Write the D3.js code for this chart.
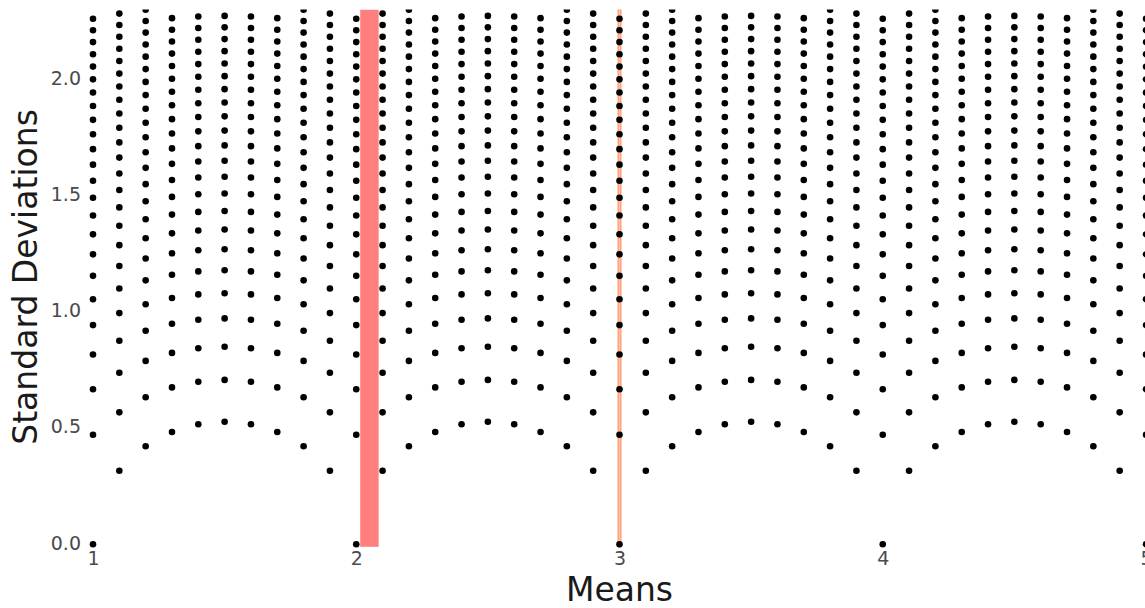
<!DOCTYPE html>
<html>
<head>
<meta charset="utf-8">
<script src="https://cdn.jsdelivr.net/npm/d3@7"></script>
<style>
  html, body { margin: 0; padding: 0; background: #fff; overflow: hidden; }
  text { font-family: "DejaVu Sans", sans-serif; }
</style>
</head>
<body>
<svg id="chart" width="1145" height="608"></svg>
<script>
// Achievable means (n = 10 integer responses) shown as columns
const means = [
  1.0, 1.1, 1.2, 1.3, 1.4, 1.5, 1.6, 1.7, 1.8, 1.9,
  2.0, 2.1, 2.2, 2.3, 2.4, 2.5, 2.6, 2.7, 2.8, 2.9,
  3.0, 3.1, 3.2, 3.3, 3.4, 3.5, 3.6, 3.7, 3.8, 3.9,
  4.0, 4.1, 4.2, 4.3, 4.4, 4.5, 4.6, 4.7, 4.8, 4.9,
  5.0
];

// Achievable standard deviations per column, grouped by the mean's tenths digit
// (a column ending in .1 shares its set with .9, .2 with .8, and so on)
const sdTenths0 = [0.0000, 0.4714, 0.6667, 0.8165, 0.9428, 1.0541, 1.1547, 1.2472, 1.3333, 1.4142,
  1.4907, 1.5635, 1.6330, 1.6997, 1.7638, 1.8257, 1.8856, 1.9437, 2.0000, 2.0548,
  2.1082, 2.1602, 2.2111, 2.2608];
const sdTenths1 = [0.3162, 0.5676, 0.7379, 0.8756, 0.9944, 1.1005, 1.1972, 1.2867, 1.3703, 1.4491,
  1.5239, 1.5951, 1.6633, 1.7288, 1.7920, 1.8529, 1.9120, 1.9692, 2.0248, 2.0790,
  2.1318, 2.1833, 2.2336, 2.2828];
const sdTenths2 = [0.4216, 0.6325, 0.7888, 0.9189, 1.0328, 1.1353, 1.2293, 1.3166, 1.3984, 1.4757,
  1.5492, 1.6193, 1.6865, 1.7512, 1.8135, 1.8738, 1.9322, 1.9889, 2.0440, 2.0976,
  2.1499, 2.2010, 2.2509, 2.2998];
const sdTenths3 = [0.4830, 0.6750, 0.8233, 0.9487, 1.0594, 1.1595, 1.2517, 1.3375, 1.4181, 1.4944,
  1.5670, 1.6364, 1.7029, 1.7670, 1.8288, 1.8886, 1.9465, 2.0028, 2.0575, 2.1108,
  2.1628, 2.2136, 2.2632];
const sdTenths4 = [0.5164, 0.6992, 0.8433, 0.9661, 1.0750, 1.1738, 1.2649, 1.3499, 1.4298, 1.5055,
  1.5776, 1.6465, 1.7127, 1.7764, 1.8379, 1.8974, 1.9550, 2.0111, 2.0656, 2.1187,
  2.1705, 2.2211, 2.2706];
const sdTenths5 = [0.5270, 0.7071, 0.8498, 0.9718, 1.0801, 1.1785, 1.2693, 1.3540, 1.4337, 1.5092,
  1.5811, 1.6499, 1.7159, 1.7795, 1.8409, 1.9003, 1.9579, 2.0138, 2.0683, 2.1213,
  2.1731, 2.2236, 2.2730];

// Reported-mean intervals highlighted as vertical bands
const bandLow  = [2.015, 2.995];
const bandHigh = [2.085, 3.005];

const xTickValues = [1, 2, 3, 4, 5];
const yTickValues = [0.0, 0.5, 1.0, 1.5, 2.0];

const sdSets = [sdTenths0, sdTenths1, sdTenths2, sdTenths3, sdTenths4, sdTenths5];
const bandFill   = ["#ff7f7f", "#ffc4aa"];
const bandStroke = ["#ff7f7f", "#ff9f78"];

const svg = d3.select("#chart");
const W = 1145, H = 608;

const x = d3.scaleLinear().domain([1, 5]).range([93, 1146]);
const y = d3.scaleLinear().domain([0, 2.3]).range([544.3, 9.6]);

// clip marks at the top of the plotting region
svg.append("defs").append("clipPath").attr("id", "plotClip")
  .append("rect").attr("x", 0).attr("y", y(2.3)).attr("width", W).attr("height", H);

const plot = svg.append("g").attr("clip-path", "url(#plotClip)");

// bands
plot.selectAll("rect.band")
  .data(bandLow.map((lo, i) => ({ lo, hi: bandHigh[i], i })))
  .join("rect")
  .attr("class", "band")
  .attr("x", d => x(d.lo))
  .attr("width", d => x(d.hi) - x(d.lo))
  .attr("y", y(2.3))
  .attr("height", y(0) + 2.5 - y(2.3))
  .attr("fill", d => bandFill[d.i])
  .attr("stroke", d => bandStroke[d.i])
  .attr("stroke-width", d => d.i === 1 ? 1.4 : 0);

// dots: every achievable (mean, sd) pair
const points = [];
means.forEach(m => {
  const tenth = Math.round(m * 10) % 10;
  const set = sdSets[Math.min(tenth, 10 - tenth)];
  set.forEach(s => points.push({ m, s }));
});

plot.selectAll("circle.pt")
  .data(points)
  .join("circle")
  .attr("class", "pt")
  .attr("cx", d => x(d.m))
  .attr("cy", d => y(d.s))
  .attr("r", 3.3)
  .attr("fill", "#000");

// axes: labels only, no lines or tick marks
const xAxis = svg.append("g")
  .attr("transform", `translate(0,${y(0) + 6})`)
  .call(d3.axisBottom(x).tickValues(xTickValues).tickFormat(d3.format("d")).tickSize(0).tickPadding(0));
xAxis.select(".domain").remove();
xAxis.selectAll("text")
  .attr("font-size", 19)
  .attr("fill", "#4a4a4a")
  .attr("font-family", "DejaVu Sans, sans-serif")
  .attr("dy", "0.78em");

const yAxis = svg.append("g")
  .attr("transform", `translate(${x(1) - 12},0)`)
  .call(d3.axisLeft(y).tickValues(yTickValues).tickFormat(d3.format(".1f")).tickSize(0).tickPadding(0));
yAxis.select(".domain").remove();
yAxis.selectAll("text")
  .attr("font-size", 19)
  .attr("fill", "#4a4a4a")
  .attr("font-family", "DejaVu Sans, sans-serif")
  .attr("dy", "0.25em");

// axis titles
svg.append("text")
  .attr("x", (x(1) + x(5)) / 2)
  .attr("y", 601)
  .attr("text-anchor", "middle")
  .attr("font-size", 33)
  .attr("fill", "#1a1a1a")
  .text("Means");

svg.append("text")
  .attr("transform", `translate(37,${(y(0) + y(2.3)) / 2}) rotate(-90)`)
  .attr("text-anchor", "middle")
  .attr("font-size", 33)
  .attr("fill", "#1a1a1a")
  .text("Standard Deviations");
</script>
</body>
</html>
